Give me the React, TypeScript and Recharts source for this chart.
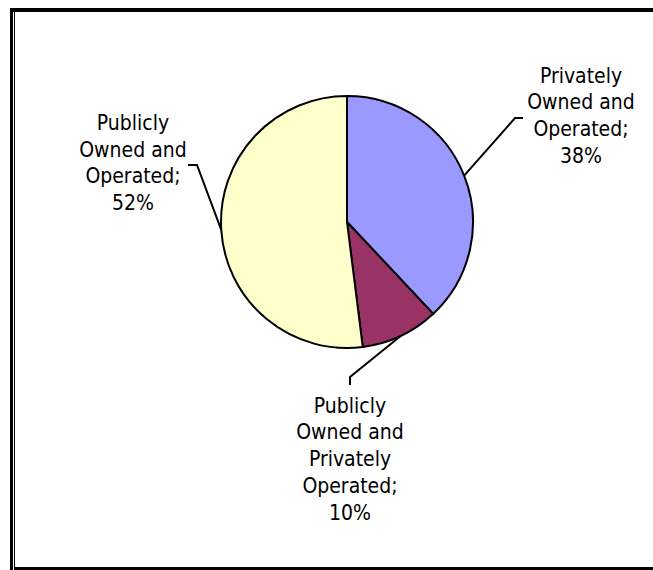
import React from 'react';
import { PieChart, Pie, Cell } from 'recharts';

// slices, clockwise from 12 o'clock
const categories = [
	['Privately', 'Owned and', 'Operated;'],
	['Publicly', 'Owned and', 'Privately', 'Operated;'],
	['Publicly', 'Owned and', 'Operated;'],
];
const shares = [38, 10, 52];
const colors = ['#9999FF', '#993366', '#FFFFCC'];

// where each label sits, relative to the pie centre
const labelLayout = [
	{ elbow: [168, -104], end: [176, -104], tx: 234, ty: -139.3 },
	{ elbow: [3, 155], end: [3, 163], tx: 3, ty: 190.7 },
	{ elbow: [-150, -57], end: [-159, -57], tx: -214, ty: -92 },
];

const FONT = '"DejaVu Sans Condensed", "DejaVu Sans", Tahoma, sans-serif';
const RAD = Math.PI / 180;
const LINE = 26.7;

const data = shares.map((v, i) => ({ name: categories[i].join(' '), value: v, lines: categories[i] }));

function renderLabel(props: any) {
	const { cx, cy, midAngle, outerRadius, index, value } = props;
	const lay = labelLayout[index];
	const sx = cx + outerRadius * Math.cos(-midAngle * RAD);
	const sy = cy + outerRadius * Math.sin(-midAngle * RAD);
	const lines = [...categories[index], value + '%'];
	return (
		<g>
			<polyline
				points={`${sx},${sy} ${cx + lay.elbow[0]},${cy + lay.elbow[1]} ${cx + lay.end[0]},${cy + lay.end[1]}`}
				fill="none"
				stroke="#000"
				strokeWidth={2}
			/>
			<text x={cx + lay.tx} y={cy + lay.ty} textAnchor="middle" fontFamily={FONT} fontSize={21} fill="#000">
				{lines.map((l, i) => (
					<tspan key={i} x={cx + lay.tx} dy={i === 0 ? 0 : LINE}>{l}</tspan>
				))}
			</text>
		</g>
	);
}

export default function App() {
	return (
		<div style={{ position: 'absolute', left: 0, top: 0, width: 653, height: 570, background: '#fff', overflow: 'hidden' }}>
			<div style={{ position: 'absolute', left: 10, top: 8, width: 643, height: 4, background: '#000' }} />
			<div style={{ position: 'absolute', left: 10, top: 8, width: 3, height: 562, background: '#000' }} />
			<div style={{ position: 'absolute', left: 14, top: 12, width: 1, height: 558, background: '#000' }} />
			<div style={{ position: 'absolute', left: 14, top: 567, width: 639, height: 3, background: '#000' }} />
			<div style={{ position: 'absolute', left: 0, top: 0 }}>
				<PieChart width={653} height={570} margin={{ top: 0, right: 0, bottom: 0, left: 0 }}>
					<Pie
						data={data}
						dataKey="value"
						nameKey="name"
						cx={347}
						cy={222}
						outerRadius={126}
						startAngle={90}
						endAngle={-270}
						stroke="#000"
						strokeWidth={2}
						labelLine={false}
						label={renderLabel}
						isAnimationActive={false}
					>
						{data.map((d, i) => (
							<Cell key={d.name} fill={colors[i]} />
						))}
					</Pie>
				</PieChart>
			</div>
		</div>
	);
}
